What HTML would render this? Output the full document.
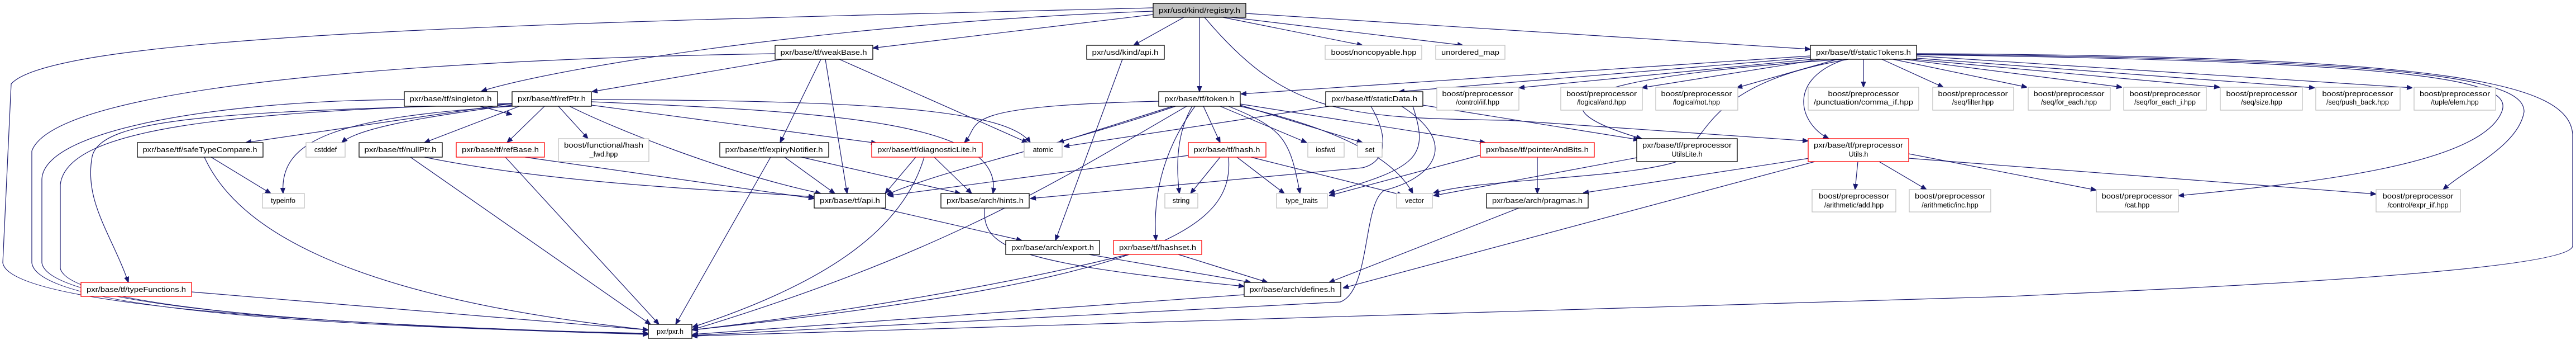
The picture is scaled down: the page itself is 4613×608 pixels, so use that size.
<!DOCTYPE html>
<html><head><meta charset="utf-8"><style>
html,body{margin:0;padding:0;background:#fff;}
svg{display:block;}
text{font-family:"Liberation Sans",sans-serif;font-size:12.5px;fill:#000;text-anchor:middle;}
.b{fill:#fff;stroke:#000;stroke-width:1.3;}
.r{fill:#fff;stroke:#ff0000;stroke-width:1.3;}
.g{fill:#fff;stroke:#bfbfbf;stroke-width:1.3;}
.f{fill:#bfbfbf;stroke:#000;stroke-width:1.3;}
path{fill:none;stroke:#191970;stroke-width:1.2;marker-end:url(#a);}
</style></head><body>
<svg width="4613" height="608" viewBox="0 0 4613 608" xmlns="http://www.w3.org/2000/svg">
<defs><marker id="a" viewBox="0 0 10 10" refX="10" refY="5" markerWidth="10" markerHeight="10" markerUnits="userSpaceOnUse" orient="auto"><path d="M0,1 L10,5 L0,9 z" style="fill:#191970;stroke:#191970;marker-end:none"/></marker></defs>
<g>
<!-- registry -->
<path d="M2120,31 L2030,81"/>
<path d="M2148,31 L2148,164"/>
<path d="M2190,31 L2440,81"/>
<path d="M2205,31 L2620,81"/>
<path d="M2231,24 L3242,88"/>
<path d="M2065,26 L1563,86"/>
<path d="M2065,20 C1500,40 1000,120 862,163"/>
<path d="M2065,14 C1000,40 100,60 20,150 L5,470 Q20,565 1161,597"/>
<path d="M2157,31 C2300,200 2400,212 2700,215 L3238,252"/>
<!-- weakBase -->
<path d="M1400,106 L1060,164"/>
<path d="M1470,106 L1397,255"/>
<path d="M1478,106 L1517,346"/>
<path d="M1503,106 L1840,255"/>
<path d="M1388,96 C800,105 100,150 57,270 L57,470 Q70,575 1161,596"/>
<!-- kind api -->
<path d="M2010,106 L1890,430"/>
<!-- token -->
<path d="M2100,190 L1895,255"/>
<path d="M2155,190 L2185,255"/>
<path d="M2135,190 Q2100,250 2112,346"/>
<path d="M2200,190 C2300,230 2310,250 2328,346"/>
<path d="M2185,190 L2340,255"/>
<path d="M2221,188 L2440,255"/>
<path d="M2221,190 Q2480,250 2530,346"/>
<path d="M2221,186 L2660,255"/>
<path d="M2140,190 Q2060,300 2070,430"/>
<path d="M2105,190 C1900,260 1700,300 1588,348"/>
<path d="M2125,190 C1900,320 1700,450 1239,590"/>
<path d="M2075,181 C1700,190 1760,220 1727,255"/>
<!-- staticData -->
<path d="M2380,190 L1905,262"/>
<path d="M2455,190 C2490,250 2480,290 2440,300 L1845,355"/>
<path d="M2530,190 C2560,280 2540,300 2380,345"/>
<path d="M2510,190 C2620,260 2560,320 2480,340 C2440,360 2455,520 2400,540 L1239,600"/>
<path d="M2548,188 L2935,250"/>
<!-- staticTokens -->
<path d="M3242,100 L2222,168"/>
<path d="M3242,103 L2505,164"/>
<path d="M3245,106 L2720,157"/>
<path d="M3260,106 L2940,157"/>
<path d="M3290,106 L3110,157"/>
<path d="M3337,106 L3337,156"/>
<path d="M3370,106 L3480,156"/>
<path d="M3390,106 L3630,156"/>
<path d="M3410,106 L3800,156"/>
<path d="M3425,106 L3975,156"/>
<path d="M3432,104 L4145,157"/>
<path d="M3432,100 L4320,157"/>
<path d="M3432,98 C4400,110 4500,150 4480,200 C4440,300 4100,330 3901,350"/>
<path d="M3432,97 C4400,105 4520,150 4520,200 C4510,260 4420,300 4375,339"/>
<path d="M3432,96 C4400,100 4600,150 4607,240 L4607,440 C4600,490 3800,520 3600,530 L1239,601"/>
<path d="M3300,106 C2800,140 2740,190 2940,248"/>
<path d="M3305,106 C3200,140 3220,220 3275,248"/>
<path d="M3310,106 C3050,150 3060,250 3000,290 C2900,320 2650,320 2567,345"/>
<!-- refPtr -->
<path d="M917,185 L440,255"/>
<path d="M917,188 C750,210 640,230 612,255"/>
<path d="M930,190 L760,255"/>
<path d="M975,190 L908,255"/>
<path d="M1000,190 L1053,248"/>
<path d="M917,190 C600,210 500,250 507,346"/>
<path d="M917,186 C400,200 180,210 165,280 C150,360 200,420 230,505"/>
<path d="M1020,190 C1100,230 1300,310 1470,346"/>
<path d="M1059,188 L1570,256"/>
<path d="M1059,178 C1500,180 1800,190 1845,255"/>
<path d="M1059,182 C1500,200 1800,220 1778,346"/>
<path d="M917,185 C400,200 120,230 108,330 L108,480 Q130,570 1161,598"/>
<!-- singleton -->
<path d="M724,178 C400,180 80,230 75,320 L75,470 Q90,570 1161,597"/>
<path d="M860,190 L917,205"/>
<!-- safeTypeCompare -->
<path d="M378,281 L485,346"/>
<path d="M366,281 C420,400 600,530 1161,590"/>
<!-- nullPtr -->
<path d="M760,281 C1000,330 1300,340 1458,352"/>
<path d="M735,281 L1165,580"/>
<!-- refBase -->
<path d="M940,281 L1458,355"/>
<path d="M905,281 L1180,580"/>
<!-- expiryNotifier -->
<path d="M1405,281 L1495,346"/>
<path d="M1435,281 L1720,346"/>
<path d="M1380,281 L1210,580"/>
<!-- diagnosticLite -->
<path d="M1640,281 L1585,346"/>
<path d="M1673,281 L1740,346"/>
<path d="M1655,281 C1620,400 1500,500 1240,585"/>
<!-- api, hints -->
<path d="M1577,372 L1830,430"/>
<path d="M1763,372 C1760,440 1800,470 2228,512"/>
<!-- hash -->
<path d="M2185,281 L2132,346"/>
<path d="M2215,281 L2300,346"/>
<path d="M2240,281 L2512,349"/>
<path d="M2200,281 C2210,400 2100,500 1240,590"/>
<path d="M2128,278 L1590,350"/>
<!-- hashset, export, defines -->
<path d="M2110,455 L2270,505"/>
<path d="M2020,455 C1800,510 1500,560 1240,590"/>
<path d="M1950,455 L2240,505"/>
<path d="M2228,527 L1240,598"/>
<path d="M343,522 L1161,590"/>
<!-- pointerAndBits -->
<path d="M2753,281 L2753,346"/>
<path d="M2660,275 L2380,350"/>
<!-- utilsLite, utils -->
<path d="M2931,282 L2567,350"/>
<path d="M3327,289 L3322,339"/>
<path d="M3365,289 L3450,339"/>
<path d="M3418,275 L3754,340"/>
<path d="M3418,283 L4255,347"/>
<path d="M3240,283 L2835,345"/>
<path d="M3250,289 L2405,515"/>
<path d="M2720,372 L2380,505"/>
</g>
<g>
<rect class="f" x="2065" y="6" width="166" height="25"/><text x="2148" y="23" textLength="146" lengthAdjust="spacingAndGlyphs">pxr/usd/kind/registry.h</text>
<rect class="b" x="1946" y="81" width="139" height="25"/><text x="2015" y="98" textLength="119" lengthAdjust="spacingAndGlyphs">pxr/usd/kind/api.h</text>
<rect class="b" x="1388" y="81" width="175" height="25"/><text x="1475" y="98" textLength="155" lengthAdjust="spacingAndGlyphs">pxr/base/tf/weakBase.h</text>
<rect class="g" x="2373" y="81" width="173" height="25"/><text x="2460" y="98" textLength="153" lengthAdjust="spacingAndGlyphs">boost/noncopyable.hpp</text>
<rect class="g" x="2571" y="81" width="124" height="25"/><text x="2633" y="98" textLength="104" lengthAdjust="spacingAndGlyphs">unordered_map</text>
<rect class="b" x="3242" y="81" width="190" height="25"/><text x="3337" y="98" textLength="170" lengthAdjust="spacingAndGlyphs">pxr/base/tf/staticTokens.h</text>

<rect class="b" x="724" y="164" width="167" height="26"/><text x="807" y="181" textLength="147" lengthAdjust="spacingAndGlyphs">pxr/base/tf/singleton.h</text>
<rect class="b" x="917" y="164" width="142" height="26"/><text x="988" y="181" textLength="122" lengthAdjust="spacingAndGlyphs">pxr/base/tf/refPtr.h</text>
<rect class="b" x="2075" y="164" width="146" height="26"/><text x="2148" y="181" textLength="126" lengthAdjust="spacingAndGlyphs">pxr/base/tf/token.h</text>
<rect class="b" x="2374" y="164" width="174" height="26"/><text x="2461" y="181" textLength="154" lengthAdjust="spacingAndGlyphs">pxr/base/tf/staticData.h</text>
<rect class="g" x="2573" y="156" width="147" height="41"/><text x="2646" y="172" textLength="127" lengthAdjust="spacingAndGlyphs">boost/preprocessor</text><text x="2646" y="187">/control/iif.hpp</text>
<rect class="g" x="2795" y="156" width="146" height="41"/><text x="2868" y="172" textLength="126" lengthAdjust="spacingAndGlyphs">boost/preprocessor</text><text x="2868" y="187">/logical/and.hpp</text>
<rect class="g" x="2965" y="156" width="147" height="41"/><text x="3038" y="172" textLength="127" lengthAdjust="spacingAndGlyphs">boost/preprocessor</text><text x="3038" y="187">/logical/not.hpp</text>
<rect class="g" x="3238" y="156" width="198" height="41"/><text x="3337" y="172" textLength="127" lengthAdjust="spacingAndGlyphs">boost/preprocessor</text><text x="3337" y="187" textLength="178" lengthAdjust="spacingAndGlyphs">/punctuation/comma_if.hpp</text>
<rect class="g" x="3461" y="156" width="145" height="41"/><text x="3533" y="172" textLength="125" lengthAdjust="spacingAndGlyphs">boost/preprocessor</text><text x="3533" y="187">/seq/filter.hpp</text>
<rect class="g" x="3632" y="156" width="147" height="41"/><text x="3705" y="172" textLength="127" lengthAdjust="spacingAndGlyphs">boost/preprocessor</text><text x="3705" y="187">/seq/for_each.hpp</text>
<rect class="g" x="3803" y="156" width="148" height="41"/><text x="3877" y="172" textLength="127" lengthAdjust="spacingAndGlyphs">boost/preprocessor</text><text x="3877" y="187">/seq/for_each_i.hpp</text>
<rect class="g" x="3976" y="156" width="147" height="41"/><text x="4050" y="172" textLength="127" lengthAdjust="spacingAndGlyphs">boost/preprocessor</text><text x="4050" y="187">/seq/size.hpp</text>
<rect class="g" x="4147" y="156" width="151" height="41"/><text x="4222" y="172" textLength="127" lengthAdjust="spacingAndGlyphs">boost/preprocessor</text><text x="4222" y="187">/seq/push_back.hpp</text>
<rect class="g" x="4323" y="156" width="146" height="41"/><text x="4396" y="172" textLength="126" lengthAdjust="spacingAndGlyphs">boost/preprocessor</text><text x="4396" y="187">/tuple/elem.hpp</text>

<rect class="b" x="246" y="255" width="225" height="26"/><text x="358" y="272" textLength="205" lengthAdjust="spacingAndGlyphs">pxr/base/tf/safeTypeCompare.h</text>
<rect class="g" x="548" y="255" width="70" height="26"/><text x="583" y="272">cstddef</text>
<rect class="b" x="643" y="255" width="149" height="26"/><text x="717" y="272" textLength="129" lengthAdjust="spacingAndGlyphs">pxr/base/tf/nullPtr.h</text>
<rect class="r" x="817" y="255" width="158" height="26"/><text x="896" y="272" textLength="138" lengthAdjust="spacingAndGlyphs">pxr/base/tf/refBase.h</text>
<rect class="g" x="1000" y="248" width="162" height="41"/><text x="1081" y="264" textLength="142" lengthAdjust="spacingAndGlyphs">boost/functional/hash</text><text x="1081" y="280">_fwd.hpp</text>
<rect class="b" x="1289" y="255" width="195" height="26"/><text x="1386" y="272" textLength="175" lengthAdjust="spacingAndGlyphs">pxr/base/tf/expiryNotifier.h</text>
<rect class="r" x="1561" y="255" width="198" height="26"/><text x="1660" y="272" textLength="178" lengthAdjust="spacingAndGlyphs">pxr/base/tf/diagnosticLite.h</text>
<rect class="g" x="1834" y="255" width="68" height="26"/><text x="1868" y="272">atomic</text>
<rect class="r" x="2128" y="255" width="139" height="26"/><text x="2197" y="272" textLength="119" lengthAdjust="spacingAndGlyphs">pxr/base/tf/hash.h</text>
<rect class="g" x="2342" y="255" width="65" height="26"/><text x="2374" y="272">iosfwd</text>
<rect class="g" x="2431" y="255" width="44" height="26"/><text x="2453" y="272">set</text>
<rect class="r" x="2651" y="255" width="204" height="26"/><text x="2753" y="272" textLength="184" lengthAdjust="spacingAndGlyphs">pxr/base/tf/pointerAndBits.h</text>
<rect class="b" x="2931" y="248" width="180" height="41"/><text x="3021" y="264" textLength="160" lengthAdjust="spacingAndGlyphs">pxr/base/tf/preprocessor</text><text x="3021" y="280">UtilsLite.h</text>
<rect class="r" x="3238" y="248" width="180" height="41"/><text x="3328" y="264" textLength="160" lengthAdjust="spacingAndGlyphs">pxr/base/tf/preprocessor</text><text x="3328" y="280">Utils.h</text>

<rect class="g" x="470" y="346" width="75" height="26"/><text x="507" y="363">typeinfo</text>
<rect class="b" x="1458" y="346" width="128" height="26"/><text x="1522" y="363" textLength="108" lengthAdjust="spacingAndGlyphs">pxr/base/tf/api.h</text>
<rect class="b" x="1685" y="346" width="158" height="26"/><text x="1764" y="363" textLength="138" lengthAdjust="spacingAndGlyphs">pxr/base/arch/hints.h</text>
<rect class="g" x="2086" y="346" width="59" height="26"/><text x="2115" y="363">string</text>
<rect class="g" x="2286" y="346" width="91" height="26"/><text x="2331" y="363">type_traits</text>
<rect class="g" x="2501" y="346" width="64" height="26"/><text x="2533" y="363">vector</text>
<rect class="b" x="2662" y="346" width="182" height="26"/><text x="2753" y="363" textLength="162" lengthAdjust="spacingAndGlyphs">pxr/base/arch/pragmas.h</text>
<rect class="g" x="3245" y="339" width="150" height="40"/><text x="3320" y="355" textLength="126" lengthAdjust="spacingAndGlyphs">boost/preprocessor</text><text x="3320" y="371">/arithmetic/add.hpp</text>
<rect class="g" x="3419" y="339" width="146" height="40"/><text x="3492" y="355" textLength="126" lengthAdjust="spacingAndGlyphs">boost/preprocessor</text><text x="3492" y="371">/arithmetic/inc.hpp</text>
<rect class="g" x="3754" y="339" width="147" height="40"/><text x="3827" y="355" textLength="127" lengthAdjust="spacingAndGlyphs">boost/preprocessor</text><text x="3827" y="371">/cat.hpp</text>
<rect class="g" x="4255" y="339" width="151" height="40"/><text x="4330" y="355" textLength="127" lengthAdjust="spacingAndGlyphs">boost/preprocessor</text><text x="4330" y="371">/control/expr_iif.hpp</text>

<rect class="b" x="1801" y="430" width="168" height="25"/><text x="1885" y="447" textLength="148" lengthAdjust="spacingAndGlyphs">pxr/base/arch/export.h</text>
<rect class="r" x="1994" y="430" width="158" height="25"/><text x="2073" y="447" textLength="138" lengthAdjust="spacingAndGlyphs">pxr/base/tf/hashset.h</text>

<rect class="r" x="145" y="505" width="198" height="25"/><text x="244" y="522" textLength="178" lengthAdjust="spacingAndGlyphs">pxr/base/tf/typeFunctions.h</text>
<rect class="b" x="2228" y="505" width="173" height="25"/><text x="2314" y="522" textLength="153" lengthAdjust="spacingAndGlyphs">pxr/base/arch/defines.h</text>

<rect class="b" x="1161" y="580" width="78" height="25"/><text x="1200" y="597">pxr/pxr.h</text>
</g>
</svg>
</body></html>
